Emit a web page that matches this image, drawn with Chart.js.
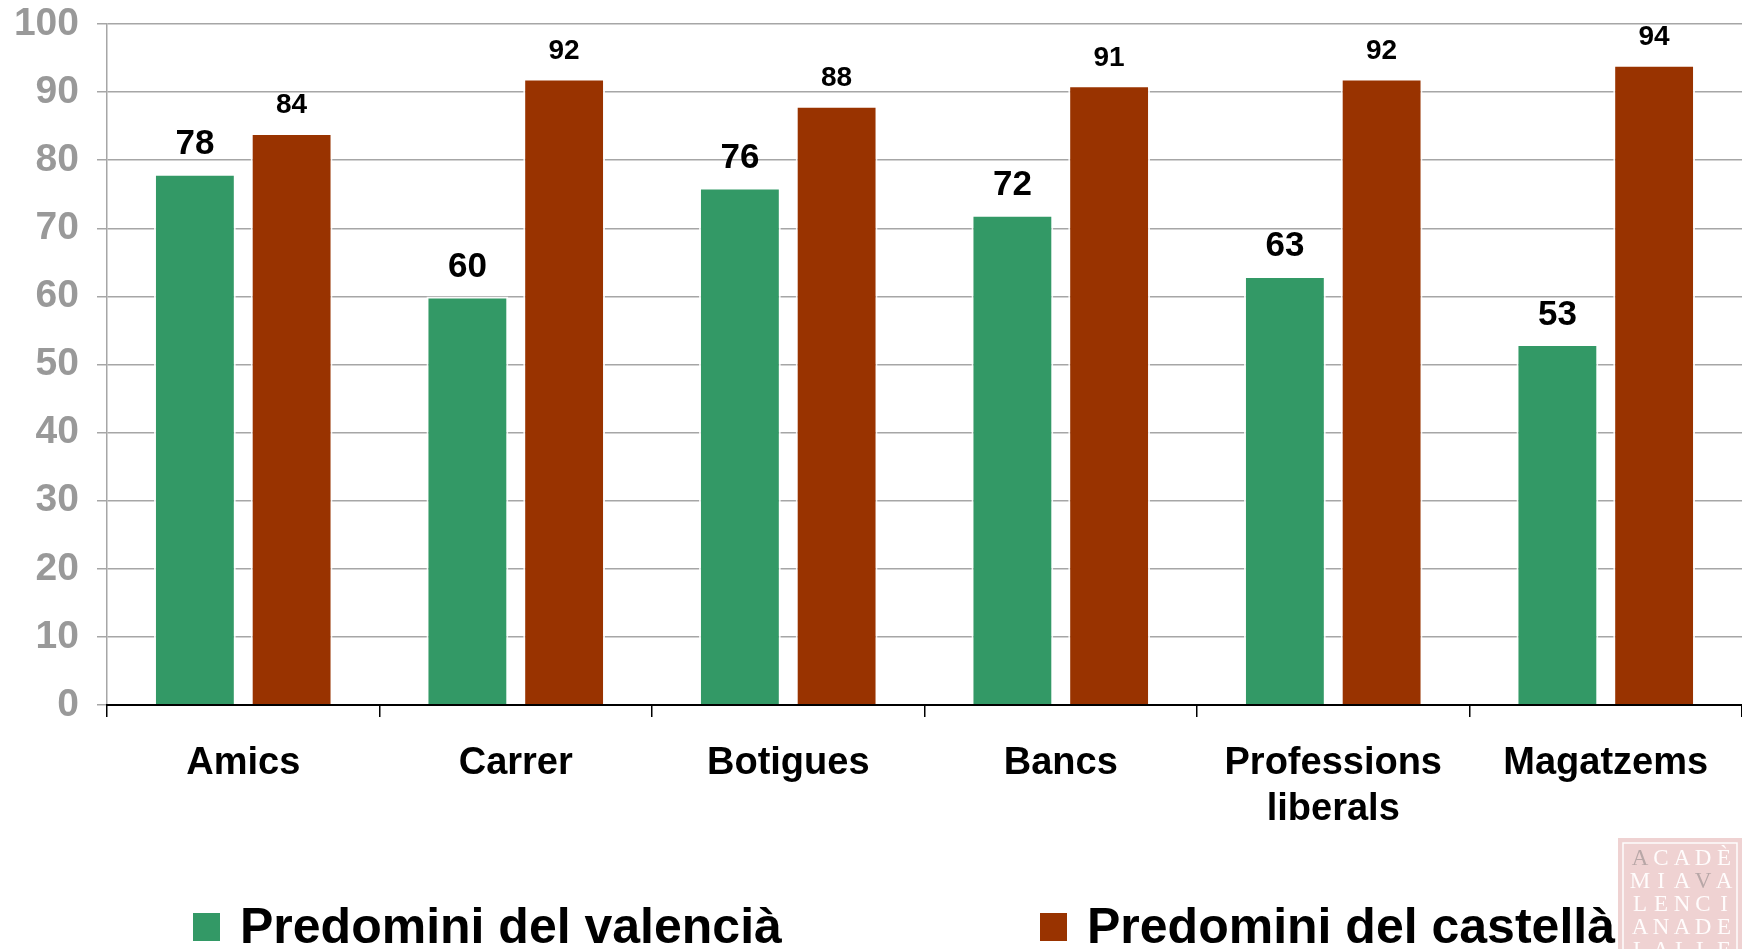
<!DOCTYPE html>
<html>
<head>
<meta charset="utf-8">
<script src="https://cdn.jsdelivr.net/npm/chart.js@4/dist/chart.umd.min.js"></script>
<style>
html,body{margin:0;padding:0;background:#fff;overflow:hidden}
#wrap{width:1742px;height:949px;position:relative}
</style>
</head>
<body>
<div id="wrap"><canvas id="c"></canvas></div>
<script>
// ---- data ----
const categories = ['Amics', 'Carrer', 'Botigues', 'Bancs', ['Professions', 'liberals'], 'Magatzems'];
const seriesNames = ['Predomini del valencià', 'Predomini del castellà'];
const valencia = [78, 60, 76, 72, 63, 53];
const castella = [84, 92, 88, 91, 92, 94];
const yMin = 0, yMax = 100, yStep = 10;
const watermarkRows = ['ACADÈ', 'MIAVA', 'LENCI', 'ANADE', 'LALLE'];

// ---- styles ----
const FONT = "'Liberation Sans', Arial, Helvetica, sans-serif";
const GREEN = '#339966';
const RED = '#993300';

const valueLabels = {
  id: 'valueLabels',
  afterDatasetsDraw(chart) {
    const ctx = chart.ctx;
    ctx.save();
    ctx.fillStyle = '#000';
    ctx.textAlign = 'center';
    ctx.textBaseline = 'alphabetic';
    chart.data.datasets.forEach((ds, di) => {
      const meta = chart.getDatasetMeta(di);
      ctx.font = 'bold ' + ds.labelSize + 'px ' + FONT;
      meta.data.forEach((el, i) => {
        ctx.fillText(String(ds.data[i]), el.x, el.y - 19.5);
      });
    });
    ctx.restore();
  }
};

const bottomLegend = {
  id: 'bottomLegend',
  afterDraw(chart, args, opts) {
    const ctx = chart.ctx;
    ctx.save();
    chart.data.datasets.forEach((ds, di) => {
      const x = opts.starts[di];
      ctx.fillStyle = ds.backgroundColor;
      ctx.fillRect(x, opts.boxTop, opts.boxSize, opts.boxSize + 1);
      ctx.fillStyle = '#000';
      ctx.font = 'bold ' + opts.fontSize + 'px ' + FONT;
      ctx.textAlign = 'left';
      ctx.textBaseline = 'alphabetic';
      ctx.fillText(ds.label, x + opts.boxSize + opts.textGap, opts.baseline);
    });
    ctx.restore();
  }
};

const watermark = {
  id: 'watermark',
  afterDraw(chart, args, opts) {
    const ctx = chart.ctx;
    const W = chart.width, H = chart.height;
    const x0 = W - opts.width, y0 = H - opts.height;
    ctx.save();
    ctx.fillStyle = 'rgba(228,180,180,0.6)';
    ctx.fillRect(x0, y0, opts.width, opts.height + 2);
    ctx.strokeStyle = 'rgba(255,255,255,0.95)';
    ctx.lineWidth = 1.5;
    ctx.strokeRect(x0 + 5, y0 + 5, opts.width - 10, opts.height + 10);
    ctx.font = '23px "Liberation Serif", "DejaVu Serif", serif';
    ctx.textAlign = 'center';
    ctx.textBaseline = 'alphabetic';
    watermarkRows.forEach((row, r) => {
      const chars = Array.from(row);
      chars.forEach((ch, k) => {
        const gray = (r === 0 && k === 0) || (r === 1 && k === 3);
        ctx.fillStyle = gray ? 'rgba(175,160,160,0.85)' : 'rgba(255,252,252,1)';
        ctx.fillText(ch, x0 + 22 + k * 21, y0 + 27 + r * 23);
      });
    });
    ctx.restore();
  }
};

new Chart(document.getElementById('c'), {
  type: 'bar',
  data: {
    labels: categories,
    datasets: [
      {
        label: seriesNames[0], data: valencia, backgroundColor: GREEN,
        borderColor: 'rgba(255,255,255,0.85)', borderWidth: 2, borderSkipped: 'bottom',
        categoryPercentage: 0.71, barPercentage: 0.846, labelSize: 35
      },
      {
        label: seriesNames[1], data: castella, backgroundColor: RED,
        borderColor: 'rgba(255,255,255,0.85)', borderWidth: 2, borderSkipped: 'bottom',
        categoryPercentage: 0.71, barPercentage: 0.846, labelSize: 28
      }
    ]
  },
  options: {
    responsive: true,
    maintainAspectRatio: false,
    animation: false,
    events: [],
    layout: { padding: { top: 24, right: 0, bottom: 0, left: 0 } },
    plugins: {
      legend: { display: false },
      tooltip: { enabled: false },
      bottomLegend: { starts: [193, 1040], boxTop: 913, boxSize: 27, textGap: 20, fontSize: 50, baseline: 943 },
      watermark: { width: 124, height: 111 }
    },
    scales: {
      x: {
        grid: { offset: true, drawOnChartArea: false, drawTicks: true, tickLength: 12, color: '#000', tickColor: '#000', lineWidth: 1.5 },
        border: { display: true, color: '#000', width: 2, z: 1 },
        ticks: {
          font: { family: FONT, size: 38, weight: 'bold', lineHeight: 1.2 },
          color: '#000', padding: 24, maxRotation: 0, minRotation: 0, autoSkip: false
        },
        afterFit(scale) { scale.height = 244; scale.paddingLeft = 0; scale.paddingRight = 0; }
      },
      y: {
        min: yMin, max: yMax,
        grid: { color: '#a6a6a6', lineWidth: 1.5, tickLength: 10, drawTicks: true },
        border: { display: true, color: '#a6a6a6', width: 1.5 },
        ticks: {
          stepSize: yStep,
          font: { family: FONT, size: 39, weight: 'bold' },
          color: '#999999', padding: 18
        },
        afterFit(scale) { scale.width = 107; scale.paddingTop = 0; scale.paddingBottom = 0; }
      }
    }
  },
  plugins: [valueLabels, bottomLegend, watermark]
});
</script>
</body>
</html>
